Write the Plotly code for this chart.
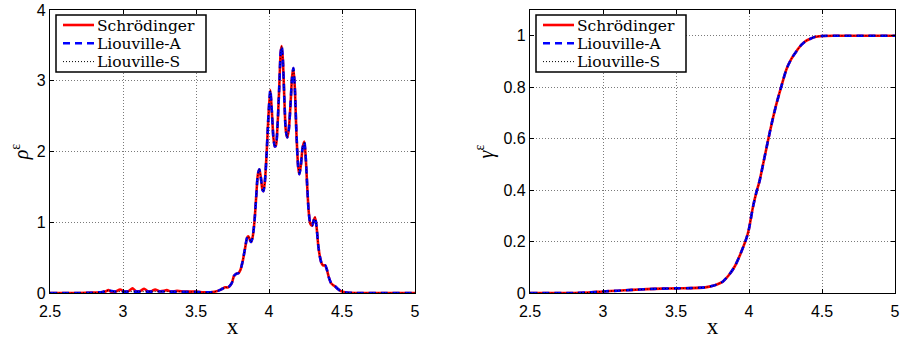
import plotly.graph_objects as go

# ---- density rho^eps: shared central part (x >= 3.55) ----
x_core = [3.55, 3.6, 3.65, 3.68, 3.7, 3.72, 3.745, 3.76, 3.775, 3.79, 3.805, 3.82,
          3.835, 3.85, 3.858, 3.868, 3.877, 3.887, 3.9, 3.912, 3.924, 3.934, 3.945,
          3.955, 3.962, 3.972, 3.984, 3.996, 4.009, 4.02, 4.03, 4.04, 4.048, 4.058,
          4.07, 4.08, 4.087, 4.095, 4.105, 4.115, 4.125, 4.135, 4.147, 4.158, 4.167,
          4.177, 4.188, 4.2, 4.208, 4.218, 4.23, 4.242, 4.252, 4.262, 4.272, 4.283,
          4.295, 4.305, 4.315, 4.325, 4.338, 4.35, 4.36, 4.37, 4.385, 4.395, 4.41,
          4.425, 4.44, 4.455, 4.47, 4.49, 4.52, 4.6, 4.8, 5.0]
rho_core = [0.01, 0.01, 0.03, 0.06, 0.08, 0.08, 0.14, 0.24, 0.27, 0.28, 0.33, 0.45,
            0.62, 0.78, 0.80, 0.76, 0.72, 0.78, 1.0, 1.35, 1.68, 1.75, 1.62,
            1.46, 1.44, 1.58, 1.98, 2.5, 2.87, 2.55, 2.2, 2.07, 2.09, 2.35,
            2.9, 3.4, 3.49, 3.3, 2.75, 2.3, 2.2, 2.3, 2.65, 3.05, 3.18,
            2.9, 2.25, 1.78, 1.68, 1.8, 2.05, 2.14, 1.9, 1.5, 1.15, 0.98,
            0.95, 1.02, 1.07, 0.95, 0.66, 0.5, 0.42, 0.39, 0.39, 0.34, 0.22,
            0.14, 0.11, 0.09, 0.06, 0.03, 0.01, 0.0, 0.0, 0.0]

# Schroedinger: small interference ripples on the left tail
x_tail_schr = [2.5, 2.7, 2.8, 2.85, 2.88, 2.9, 2.92, 2.95, 2.98, 3.01, 3.04, 3.065,
               3.09, 3.12, 3.145, 3.17, 3.2, 3.22, 3.25, 3.28, 3.3, 3.33, 3.37,
               3.42, 3.5]
rho_tail_schr = [0.0, 0.0, 0.005, 0.01, 0.02, 0.04, 0.015, 0.02, 0.05, 0.02, 0.03,
                 0.065, 0.025, 0.03, 0.06, 0.025, 0.03, 0.05, 0.025, 0.03, 0.04,
                 0.02, 0.03, 0.02, 0.02]

# Liouville: smooth left tail
x_tail_liou = [2.5, 2.7, 2.8, 2.86, 2.9, 2.94, 3.0, 3.1, 3.2, 3.3, 3.4, 3.5]
rho_tail_liou = [0.0, 0.0, 0.005, 0.015, 0.035, 0.02, 0.02, 0.02, 0.02, 0.02,
                 0.018, 0.015]

# ---- cumulative gamma^eps ----
x_gamma = [2.5, 2.8, 2.9, 3.0, 3.1, 3.2, 3.3, 3.4, 3.5, 3.6, 3.7, 3.754, 3.8,
           3.822, 3.86, 3.902, 3.94, 3.982, 4.0, 4.027, 4.05, 4.073, 4.1, 4.13,
           4.16, 4.187, 4.22, 4.256, 4.29, 4.324, 4.36, 4.39, 4.415, 4.45, 4.5,
           4.6, 5.0]
gamma_vals = [0.0, 0.0, 0.002, 0.006, 0.009, 0.012, 0.015, 0.017, 0.018, 0.019,
              0.022, 0.028, 0.038, 0.045, 0.068, 0.103, 0.15, 0.212, 0.25, 0.334,
              0.39, 0.437, 0.51, 0.592, 0.67, 0.733, 0.80, 0.869, 0.91, 0.939,
              0.965, 0.98, 0.987, 0.995, 0.999, 1.0, 1.0]

series_names = ["Schrödinger", "Liouville-A", "Liouville-S"]

x_schr = x_tail_schr + x_core
y_schr = rho_tail_schr + rho_core
x_liou = x_tail_liou + x_core
y_liou = rho_tail_liou + rho_core

styles = [
    dict(color="#ff0000", width=2.6, dash="solid"),
    dict(color="#0000ff", width=2.6, dash="7px,5px"),
    dict(color="#000000", width=1.0, dash="1px,2px"),
]

fig = go.Figure()

left_data = [(x_schr, y_schr), (x_liou, y_liou), (x_liou, y_liou)]
for (xs, ys), name, st in zip(left_data, series_names, styles):
    fig.add_trace(go.Scatter(x=xs, y=ys, mode="lines", name=name,
                             line=dict(shape="spline", smoothing=0.7, **st),
                             xaxis="x", yaxis="y", showlegend=False))

for name, st in zip(series_names, styles):
    fig.add_trace(go.Scatter(x=x_gamma, y=gamma_vals, mode="lines", name=name,
                             line=dict(shape="spline", smoothing=0.7, **st),
                             xaxis="x2", yaxis="y2", showlegend=False))

W, H = 901, 339
tick_font = dict(family="Liberation Sans", size=16, color="black")
serif = "Liberation Serif"


def px(xp, yp):
    """Pixel position -> paper coordinates."""
    return xp / W, 1 - yp / H


# Compact MATLAB-style legend boxes (one per panel)
shapes, annotations = [], []
for x0 in (56, 536):
    bx0, by0 = px(x0, 15)
    bx1, by1 = px(x0 + 150, 72)
    shapes.append(dict(type="rect", xref="paper", yref="paper",
                       x0=bx0, y0=by1, x1=bx1, y1=by0,
                       line=dict(color="black", width=1.5), fillcolor="white",
                       layer="above"))
    for i, (name, st) in enumerate(zip(series_names, styles)):
        ry = 25 + 18.3 * i
        lx0, ly = px(x0 + 7, ry)
        lx1, _ = px(x0 + 38, ry)
        shapes.append(dict(type="line", xref="paper", yref="paper",
                           x0=lx0, x1=lx1, y0=ly, y1=ly,
                           line=dict(color=st["color"], width=st["width"], dash=st["dash"]),
                           layer="above"))
        tx, ty = px(x0 + 40, ry + 0.5)
        annotations.append(dict(text=name, xref="paper", yref="paper", x=tx, y=ty,
                                xanchor="left", yanchor="middle", showarrow=False,
                                borderpad=0,
                                font=dict(family="DejaVu Serif", size=15.5, color="black")))

common_axis = dict(
    showline=True, linecolor="black", linewidth=1.3, mirror="ticks",
    ticks="inside", ticklen=4, tickcolor="black",
    showgrid=True, gridcolor="#7a7a7a", griddash="1px,2px", gridwidth=1,
    zeroline=False, tickfont=tick_font, automargin=False,
)

title_x = dict(text="x", font=dict(family=serif, size=23, color="black"), standoff=0)

fig.update_layout(
    template="none",
    width=W, height=H,
    margin=dict(l=0, r=0, t=0, b=0),
    paper_bgcolor="white", plot_bgcolor="white",
    xaxis=dict(domain=[50 / W, 415 / W], range=[2.5, 5], dtick=0.5,
               title=title_x, ticklabelstandoff=4,
               anchor="y", **common_axis),
    yaxis=dict(domain=[46 / H, 329 / H], range=[0, 4], dtick=1,
               title=dict(text="<i>ρ</i><sup>ε</sup>",
                          font=dict(family=serif, size=20, color="black"), standoff=2),
               anchor="x", **common_axis),
    xaxis2=dict(domain=[530 / W, 895 / W], range=[2.5, 5], dtick=0.5,
                title=title_x, ticklabelstandoff=4,
                anchor="y2", **common_axis),
    yaxis2=dict(domain=[46 / H, 329 / H], range=[0, 1.1], tickvals=[0, 0.2, 0.4, 0.6, 0.8, 1],
                ticktext=["0", "0.2", "0.4", "0.6", "0.8", "1"],
                title=dict(text="<i>γ</i><sup>ε</sup>",
                           font=dict(family=serif, size=20, color="black"), standoff=4),
                anchor="x2", **common_axis),
    shapes=shapes,
    annotations=annotations,
    showlegend=False,
)

fig.write_html("out.html")
